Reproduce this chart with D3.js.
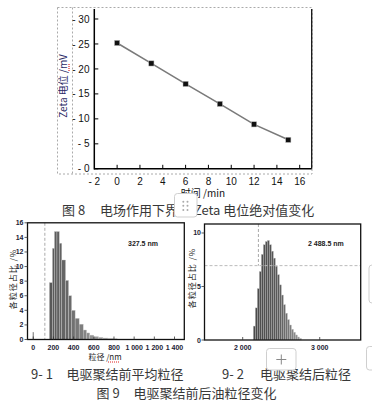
<!DOCTYPE html>
<html>
<head>
<meta charset="utf-8">
<script src="https://cdn.jsdelivr.net/npm/d3@7"></script>
<style>
  body { margin: 0; background: #fff; }
  svg { display: block; }
  text { font-family: "Liberation Sans", Arial, "Noto Sans CJK SC", sans-serif; }
  .cn { font-family: "Noto Sans CJK SC", sans-serif; }
</style>
</head>
<body>
<svg id="chart" width="372" height="406"></svg>
<script>
// ---- Fig 8 data: zeta potential vs time
var zeta_time = [0, 3, 6, 9, 12, 15];
var zeta_value = [25.2, 21.1, 17.0, 13.0, 8.9, 5.8];
var zeta_y_ticks = [0, 5, 10, 15, 20, 25, 30];
var zeta_x_ticks = [-2, 0, 2, 4, 6, 8, 10, 12, 14, 16];

// ---- Fig 9-1 data: size distribution before coalescence
var before_bin_start = [-4, 160, 190, 210, 235, 258, 283, 320, 350, 380, 415, 455, 495, 528, 560, 600, 645, 690, 740, 790];
var before_bin_end   = [4, 190, 210, 235, 258, 283, 320, 350, 380, 415, 455, 495, 528, 560, 600, 645, 690, 740, 790, 830];
var before_value     = [1.0, 7.8, 12.5, 14.8, 14.8, 13.2, 10.9, 8.1, 6.0, 4.0, 2.9, 2.1, 1.3, 0.9, 0.6, 0.4, 0.3, 0.2, 0.15, 0.1];
var before_y_ticks = [0, 2, 4, 6, 8, 10, 12, 14, 16];
var before_x_ticks = [0, 200, 400, 600, 800, 1000, 1200, 1400];
var before_marker = 115;
var before_label = "327.5 nm";

// ---- Fig 9-2 data: size distribution after coalescence (bins 26 nm wide)
var after_bin_start = [2138, 2164, 2190, 2216, 2242, 2268, 2294, 2320, 2346, 2372, 2398, 2424, 2450, 2476, 2502, 2528, 2554, 2580, 2606, 2632, 2658, 2684, 2710, 2736];
var after_value     = [1.3, 3.0, 4.8, 6.4, 8.0, 8.9, 9.2, 9.3, 8.9, 8.3, 7.65, 6.9, 6.1, 5.15, 4.2, 3.3, 2.5, 1.9, 1.4, 1.0, 0.72, 0.47, 0.28, 0.15];
var after_bin_width = 26;
var after_y_ticks = [0, 5, 10];
var after_x_ticks = [2000, 3000];
var after_marker_x = 2204;
var after_marker_y = 6.95;
var after_label = "2 488.5 nm";

var svg = d3.select("#chart");
svg.append("rect").attr("width", 372).attr("height", 406).attr("fill", "#fff");

var caption_color = "#383838";
var nm_fmt = function (d) {
    // thousands separated by a space, like "1 000"
    return d >= 1000 ? Math.floor(d / 1000) + " " + d3.format("03d")(d % 1000) : String(d);
};

// ================= Figure 8 =================
var x_top = d3.scaleLinear().domain([-2, 17.05]).range([94.3, 311.7]);
var y_top = d3.scaleLinear().domain([0, 32]).range([168.8, 9]);
var top_svg = svg.append("g");

// dashed selection frame around the picture
top_svg.append("rect")
    .attr("x", 57.5).attr("y", 7.5).attr("width", 254.5).attr("height", 166.5)
    .attr("fill", "none").attr("stroke", "#aaa").attr("stroke-dasharray", "2,2");
top_svg.append("line")
    .attr("x1", 72.5).attr("x2", 72.5).attr("y1", 7.5).attr("y2", 174)
    .attr("stroke", "#aaa").attr("stroke-dasharray", "2,2");

// axis lines
top_svg.append("line").attr("x1", x_top(-2)).attr("x2", x_top(-2))
    .attr("y1", y_top.range()[1]).attr("y2", y_top(0) + 0.7)
    .attr("stroke", "#000").attr("stroke-width", 1.5);
top_svg.append("line").attr("x1", x_top(-2)).attr("x2", x_top.range()[1])
    .attr("y1", y_top(0)).attr("y2", y_top(0))
    .attr("stroke", "#000").attr("stroke-width", 1.5);
top_svg.append("line").attr("x1", x_top.range()[1]).attr("x2", x_top.range()[1])
    .attr("y1", y_top.range()[1]).attr("y2", y_top(0))
    .attr("stroke", "#111").attr("stroke-width", 1.3);

// y ticks (inward) + labels
top_svg.selectAll(".ytick").data(zeta_y_ticks).enter().append("line")
    .attr("x1", x_top(-2)).attr("x2", x_top(-2) + 4)
    .attr("y1", d => y_top(d)).attr("y2", d => y_top(d))
    .attr("stroke", "#000");
top_svg.selectAll(".ylab").data(zeta_y_ticks).enter().append("text")
    .attr("x", 89.5).attr("y", d => y_top(d) + 3.6)
    .attr("text-anchor", "end").attr("font-size", "10px").attr("fill", "#111")
    .text(d => "- " + d);

// x ticks (inward) + labels
top_svg.selectAll(".xtick").data(zeta_x_ticks.slice(1)).enter().append("line")
    .attr("x1", d => x_top(d)).attr("x2", d => x_top(d))
    .attr("y1", y_top(0)).attr("y2", y_top(0) - 4)
    .attr("stroke", "#000");
top_svg.selectAll(".xlab").data(zeta_x_ticks).enter().append("text")
    .attr("x", d => x_top(d)).attr("y", 184.5)
    .attr("text-anchor", "middle").attr("font-size", "10px").attr("fill", "#111")
    .text(d => d < 0 ? "- " + Math.abs(d) : d);

// line + square markers
var zeta_line = d3.line().x((d, i) => x_top(zeta_time[i])).y(d => y_top(d));
top_svg.append("path").datum(zeta_value)
    .attr("d", zeta_line).attr("fill", "none")
    .attr("stroke", "#7a7a7a").attr("stroke-width", 1.6);
top_svg.selectAll(".pt").data(zeta_value).enter().append("rect")
    .attr("x", (d, i) => x_top(zeta_time[i]) - 2.6)
    .attr("y", d => y_top(d) - 2.6)
    .attr("width", 5.2).attr("height", 5.2)
    .attr("fill", "#111").attr("stroke", "#bbb").attr("stroke-width", 0.5);

// axis titles
top_svg.append("text")
    .attr("class", "cn")
    .attr("transform", "translate(66.5,86) rotate(-90)")
    .attr("text-anchor", "middle").attr("font-size", "10px").attr("fill", "#2a2a66")
    .text("Zeta 电位 /mV");
top_svg.append("line").attr("x1", 69).attr("x2", 69).attr("y1", 64).attr("y2", 72)
    .attr("stroke", "#e02020").attr("stroke-dasharray", "1,1").attr("stroke-width", 1.2);
top_svg.append("text")
    .attr("class", "cn")
    .attr("x", 203).attr("y", 197)
    .attr("text-anchor", "middle").attr("font-size", "10px").attr("fill", "#111")
    .text("时间 /min");

// caption
top_svg.append("text").attr("class", "cn")
    .attr("x", 62).attr("y", 215).attr("font-size", "13px").attr("fill", caption_color)
    .text("图 8");
top_svg.append("text").attr("class", "cn")
    .attr("x", 100).attr("y", 215).attr("font-size", "13px").attr("fill", caption_color)
    .text("电场作用下界面 Zeta 电位绝对值变化");

// ================= histogram helper =================
function draw_frame(g, xs, ys) {
    g.append("rect")
        .attr("x", xs.range()[0]).attr("y", ys.range()[1])
        .attr("width", xs.range()[1] - xs.range()[0])
        .attr("height", ys.range()[0] - ys.range()[1])
        .attr("fill", "none").attr("stroke", "#111").attr("stroke-width", 1.3);
}

function draw_y_axis(g, ys, ticks, x_axis, x_lab) {
    g.selectAll(".yt").data(ticks).enter().append("line")
        .attr("x1", x_axis - 3).attr("x2", x_axis)
        .attr("y1", d => ys(d)).attr("y2", d => ys(d))
        .attr("stroke", "#333").attr("stroke-width", 0.8);
    g.selectAll(".yl").data(ticks).enter().append("text")
        .attr("x", x_lab).attr("y", d => ys(d) + 2.5)
        .attr("text-anchor", "end").attr("font-size", "7px").attr("font-weight", "bold")
        .attr("fill", "#223").text(d => d);
}

function draw_x_axis(g, xs, ys, ticks) {
    g.selectAll(".xt").data(ticks).enter().append("line")
        .attr("x1", d => xs(d)).attr("x2", d => xs(d))
        .attr("y1", ys(0)).attr("y2", ys(0) - 3)
        .attr("stroke", "#333").attr("stroke-width", 0.8);
    g.selectAll(".xl").data(ticks).enter().append("text")
        .attr("x", d => xs(d)).attr("y", 349.5)
        .attr("text-anchor", "middle").attr("font-size", "7px").attr("font-weight", "bold")
        .attr("fill", "#223").text(nm_fmt);
}

// ================= Figure 9-1 =================
var x_before = d3.scaleLinear().domain([-57, 1497]).range([27.5, 184.3]);
var y_before = d3.scaleLinear().domain([0, 16]).range([339.5, 222.8]);
var before_svg = svg.append("g");
var before_shade = d3.scaleLinear().domain([0, 8, 19]).range(["#555", "#6a6a6a", "#b5b5b5"]);

before_svg.selectAll(".bar").data(before_value).enter().append("rect")
    .attr("x", (d, i) => x_before(before_bin_start[i]))
    .attr("width", (d, i) => x_before(before_bin_end[i]) - x_before(before_bin_start[i]))
    .attr("y", d => y_before(d))
    .attr("height", d => y_before(0) - y_before(d))
    .attr("fill", (d, i) => i == 0 ? "#333" : before_shade(i))
    .attr("stroke", "#c8c8c8").attr("stroke-width", 0.4);

before_svg.append("line")
    .attr("x1", x_before(before_marker)).attr("x2", x_before(before_marker))
    .attr("y1", y_before.range()[1]).attr("y2", y_before(0))
    .attr("stroke", "#aaa").attr("stroke-dasharray", "3,2");

draw_frame(before_svg, x_before, y_before);
draw_y_axis(before_svg, y_before, before_y_ticks, x_before.range()[0], 23.5);
draw_x_axis(before_svg, x_before, y_before, before_x_ticks);

before_svg.append("text").attr("x", 128).attr("y", 246)
    .attr("font-size", "7px").attr("font-weight", "bold").attr("fill", "#222")
    .text(before_label);
before_svg.append("text").attr("class", "cn")
    .attr("transform", "translate(16,279) rotate(-90)")
    .attr("text-anchor", "middle").attr("font-size", "8px").attr("fill", "#222")
    .attr("letter-spacing", "1px")
    .text("各粒径占比 /%");
before_svg.append("text").attr("class", "cn")
    .attr("x", 105).attr("y", 360)
    .attr("text-anchor", "middle").attr("font-size", "8px").attr("fill", "#222")
    .text("粒径 /nm");
before_svg.append("line").attr("x1", 108).attr("x2", 119).attr("y1", 362).attr("y2", 362)
    .attr("stroke", "#e02020").attr("stroke-dasharray", "1,1").attr("stroke-width", 1);

// ================= Figure 9-2 =================
var x_after = d3.scaleLinear().domain([1504, 3532]).range([204.5, 360.7]);
var y_after = d3.scaleLinear().domain([0, 10.84]).range([340, 224]);
var after_svg = svg.append("g");
var after_shade = d3.scaleLinear().domain([0, 12, 23]).range(["#4a4a4a", "#5a5a5a", "#9a9a9a"]);

after_svg.selectAll(".bar").data(after_value).enter().append("rect")
    .attr("x", (d, i) => x_after(after_bin_start[i]))
    .attr("width", (d, i) => x_after(after_bin_start[i] + after_bin_width) - x_after(after_bin_start[i]))
    .attr("y", d => y_after(d))
    .attr("height", d => y_after(0) - y_after(d))
    .attr("fill", (d, i) => after_shade(i))
    .attr("stroke", "#bdbdbd").attr("stroke-width", 0.4);

after_svg.append("line")
    .attr("x1", x_after(after_marker_x)).attr("x2", x_after(after_marker_x))
    .attr("y1", y_after.range()[1]).attr("y2", y_after(after_marker_y))
    .attr("stroke", "#aaa").attr("stroke-dasharray", "3,2");
after_svg.append("line")
    .attr("x1", x_after.range()[0]).attr("x2", x_after.range()[1])
    .attr("y1", y_after(after_marker_y)).attr("y2", y_after(after_marker_y))
    .attr("stroke", "#bbb").attr("stroke-dasharray", "3,2");

draw_frame(after_svg, x_after, y_after);
draw_y_axis(after_svg, y_after, after_y_ticks, x_after.range()[0], 201);
draw_x_axis(after_svg, x_after, y_after, after_x_ticks);

after_svg.append("text").attr("x", 308).attr("y", 246)
    .attr("font-size", "7px").attr("font-weight", "bold").attr("fill", "#222")
    .text(after_label);
after_svg.append("text").attr("class", "cn")
    .attr("transform", "translate(195,278) rotate(-90)")
    .attr("text-anchor", "middle").attr("font-size", "8px").attr("fill", "#222")
    .attr("letter-spacing", "1px")
    .text("各粒径占比 /%");

// ================= captions for figure 9 =================
var cap = svg.append("g").attr("class", "cn");
cap.append("text").attr("class", "cn").attr("x", 31).attr("y", 379)
    .attr("font-size", "13px").attr("fill", caption_color).text("9- 1");
cap.append("text").attr("class", "cn").attr("x", 66.5).attr("y", 379)
    .attr("font-size", "13px").attr("fill", caption_color).text("电驱聚结前平均粒径");
cap.append("text").attr("class", "cn").attr("x", 222).attr("y", 378.5)
    .attr("font-size", "13px").attr("fill", caption_color).text("9- 2");
cap.append("text").attr("class", "cn").attr("x", 260).attr("y", 378.5)
    .attr("font-size", "13px").attr("fill", caption_color).text("电驱聚结后粒径");
cap.append("text").attr("class", "cn").attr("x", 96.5).attr("y", 398)
    .attr("font-size", "13px").attr("fill", caption_color).text("图 9");
cap.append("text").attr("class", "cn").attr("x", 133.5).attr("y", 398)
    .attr("font-size", "13px").attr("fill", caption_color).text("电驱聚结前后油粒径变化");

// ================= editor overlay widgets =================
var ui = svg.append("g");
ui.append("rect").attr("x", 174.5).attr("y", 193.5).attr("width", 22.5).attr("height", 23.5)
    .attr("rx", 3).attr("fill", "#fff").attr("stroke", "#cfcfcf");
[[183.3, 201.7], [187.5, 201.7], [183.3, 205.8], [187.5, 205.8], [183.3, 210], [187.5, 210]]
    .forEach(p => ui.append("circle").attr("cx", p[0]).attr("cy", p[1]).attr("r", 1).attr("fill", "#aaa"));
ui.append("rect").attr("x", 266.5).attr("y", 348.5).attr("width", 29.5).attr("height", 21.5)
    .attr("rx", 3).attr("fill", "#fff").attr("stroke", "#cfcfcf");
ui.append("path").attr("d", "M281.3,354.5 V364.5 M276.3,359.5 H286.3")
    .attr("stroke", "#888").attr("stroke-width", 1);
ui.append("rect").attr("x", 366.5).attr("y", 346.5).attr("width", 12).attr("height", 23.5)
    .attr("rx", 3).attr("fill", "#fff").attr("stroke", "#cfcfcf");
ui.append("rect").attr("x", 369).attr("y", 265).attr("width", 12).attr("height", 38)
    .attr("rx", 3).attr("fill", "#fff").attr("stroke", "#cfcfcf");
</script>
</body>
</html>
